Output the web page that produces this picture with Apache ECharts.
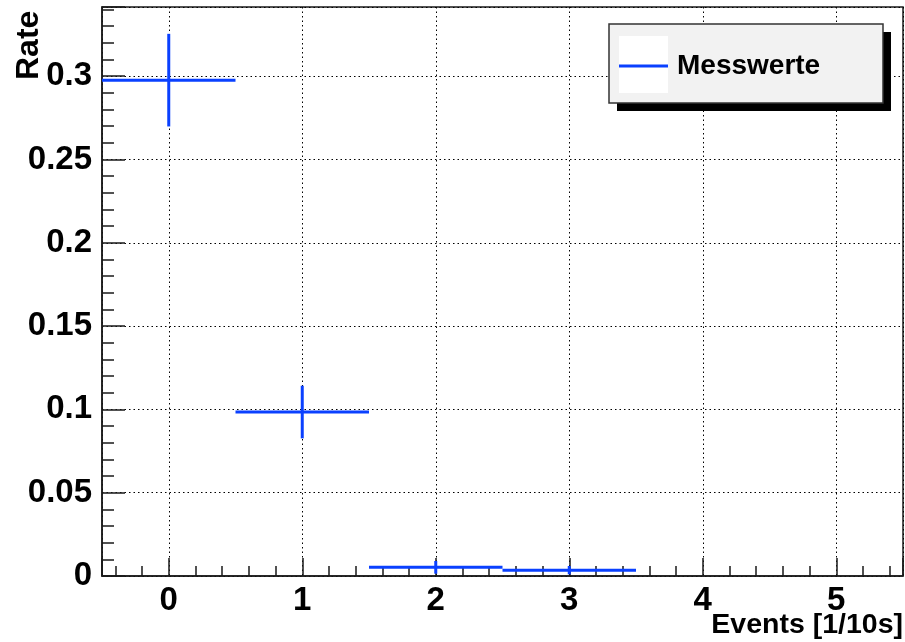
<!DOCTYPE html>
<html>
<head>
<meta charset="utf-8">
<script src="https://cdn.jsdelivr.net/npm/echarts@6/dist/echarts.min.js"></script>
<style>html,body{margin:0;padding:0;background:#fff}#c{width:905px;height:642px}</style>
</head>
<body>
<div id="c"></div>
<script>
// Data
const binCenters = [0, 1, 2, 3];
const rates = [0.2976, 0.0984, 0.0052, 0.0035];
const rateErrors = [0.0278, 0.0158, 0.0038, 0.0025];
const binWidth = 1;
const seriesName = 'Messwerte';
const xTitle = 'Events [1/10s]';
const yTitle = 'Rate';

const FONT = '"Liberation Sans", Arial, Helvetica, sans-serif';
const BLUE = '#0a40ff';
const INK = '#1a1a1a';

const points = binCenters.map((x, i) => [x, rates[i], rateErrors[i]]);

const chart = echarts.init(document.getElementById('c'), null, {renderer: 'canvas'});
chart.setOption({
  animation: false,
  backgroundColor: '#fff',
  grid: {
    left: 102, right: 2, top: 7, bottom: 66,
    show: true, borderColor: INK, borderWidth: 1.5, backgroundColor: '#fff',
    outerBoundsMode: 'none'
  },
  xAxis: {
    type: 'value', min: -0.5, max: 5.5, splitNumber: 6,
    name: xTitle, nameLocation: 'end', nameGap: 0, nameMoveOverlap: false,
    nameTextStyle: {fontFamily: FONT, fontWeight: 'bold', fontSize: 28.5, color: '#000',
      align: 'right', verticalAlign: 'top', padding: [35, 0, 0, 0]},
    axisLine: {show: true, onZero: false, lineStyle: {color: INK, width: 1.5}},
    axisTick: {show: true, inside: true, length: 18, lineStyle: {color: INK, width: 1.5}},
    minorTick: {show: true, splitNumber: 5, length: 10, lineStyle: {color: INK, width: 1.5}},
    axisLabel: {show: true, margin: 8, fontFamily: FONT, fontWeight: 'bold', fontSize: 33, color: '#000',
      showMinLabel: false, showMaxLabel: false,
      formatter: v => (Math.abs(v - Math.round(v)) < 1e-9 ? String(Math.round(v)) : '')},
    splitLine: {show: true, lineStyle: {color: '#000', width: 1, type: [1.5, 3]}},
    minorSplitLine: {show: false}
  },
  yAxis: {
    type: 'value', min: 0, max: 0.3415, interval: 0.05,
    name: yTitle, nameLocation: 'end', nameGap: -73, nameRotate: 90, nameMoveOverlap: false,
    nameTextStyle: {fontFamily: FONT, fontWeight: 'bold', fontSize: 32, color: '#000',
      align: 'left', verticalAlign: 'bottom', padding: [0, 0, 57, 0]},
    axisLine: {show: true, onZero: false, lineStyle: {color: INK, width: 1.5}},
    axisTick: {show: true, inside: true, length: 23, lineStyle: {color: INK, width: 1.5}},
    minorTick: {show: true, splitNumber: 5, length: 12, lineStyle: {color: INK, width: 1.5}},
    axisLabel: {show: true, margin: 10, fontFamily: FONT, fontWeight: 'bold', fontSize: 33, color: '#000',
      showMaxLabel: false,
      formatter: v => (v > 0.31 ? '' : String(+v.toFixed(2)))},
    splitLine: {show: true, lineStyle: {color: '#000', width: 1, type: [1.5, 3]}}
  },
  legend: {
    data: [seriesName], left: 619, top: 52, padding: 0, z: 10,
    icon: 'rect', itemWidth: 49, itemHeight: 3,
    textStyle: {fontFamily: FONT, fontWeight: 'bold', fontSize: 28, color: '#000', padding: [0, 0, 0, 4]}
  },
  graphic: [
    {type: 'rect', z: 1, shape: {x: 617, y: 32, width: 274, height: 79}, style: {fill: '#000'}},
    {type: 'rect', z: 2, shape: {x: 609, y: 24, width: 274, height: 79}, style: {fill: '#f2f2f2', stroke: '#333', lineWidth: 1.5}},
    {type: 'rect', z: 3, shape: {x: 619, y: 36, width: 49, height: 57}, style: {fill: '#fff'}}
  ],
  series: [{
    name: seriesName,
    type: 'custom',
    itemStyle: {color: BLUE},
    encode: {x: 0, y: 1},
    clip: true,
    data: points,
    renderItem: function (params, api) {
      const x = api.value(0), y = api.value(1), e = api.value(2);
      const pL = api.coord([x - binWidth / 2, y]);
      const pR = api.coord([x + binWidth / 2, y]);
      const pT = api.coord([x, y + e]);
      const pB = api.coord([x, y - e]);
      const style = {stroke: BLUE, lineWidth: 3};
      return {
        type: 'group',
        children: [
          {type: 'line', shape: {x1: pL[0], y1: pL[1], x2: pR[0], y2: pR[1]}, style: style},
          {type: 'line', shape: {x1: pB[0], y1: pB[1], x2: pT[0], y2: pT[1]}, style: style}
        ]
      };
    }
  }]
});
</script>
</body>
</html>
